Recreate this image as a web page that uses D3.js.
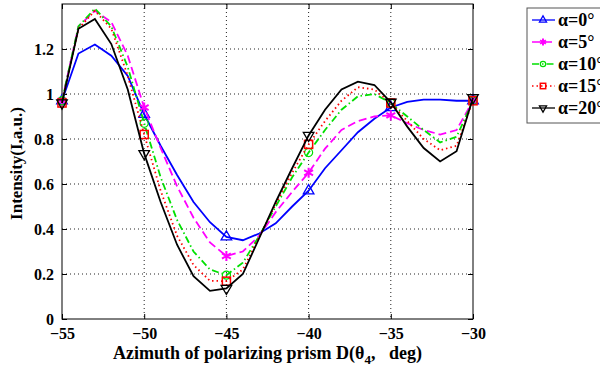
<!DOCTYPE html>
<html>
<head>
<meta charset="utf-8">
<script src="https://cdn.jsdelivr.net/npm/d3@7"></script>
<style>
  body { margin: 0; background: #fff; }
  text { font-family: "Liberation Serif", "Times New Roman", serif; font-weight: bold; fill: #000; }
</style>
</head>
<body>
<svg id="chart" width="600" height="370"></svg>
<script>
// azimuth, every degree from -55 to -30
var angles = [-55, -54, -53, -52, -51, -50, -49, -48, -47, -46, -45, -44, -43,
              -42, -41, -40, -39, -38, -37, -36, -35, -34, -33, -32, -31, -30];
var markerAngles = [-55, -50, -45, -40, -35, -30];

var a0  = [0.97, 1.18, 1.22, 1.17, 1.08, 0.91, 0.77, 0.64, 0.52, 0.43, 0.365, 0.35, 0.38,
           0.425, 0.50, 0.57, 0.67, 0.75, 0.83, 0.89, 0.94, 0.965, 0.975, 0.975, 0.97, 0.97];
var a5  = [0.97, 1.30, 1.37, 1.32, 1.17, 0.94, 0.76, 0.59, 0.45, 0.34, 0.28, 0.30, 0.37,
           0.475, 0.565, 0.65, 0.757, 0.84, 0.88, 0.90, 0.905, 0.87, 0.84, 0.82, 0.84, 0.97];
var a10 = [0.97, 1.30, 1.38, 1.30, 1.12, 0.87, 0.63, 0.44, 0.30, 0.22, 0.195, 0.25, 0.37,
           0.50, 0.63, 0.74, 0.84, 0.93, 0.99, 1.00, 0.96, 0.90, 0.84, 0.785, 0.81, 0.97];
var a15 = [0.96, 1.29, 1.37, 1.29, 1.08, 0.82, 0.57, 0.37, 0.24, 0.17, 0.168, 0.22, 0.365,
           0.51, 0.65, 0.776, 0.88, 0.97, 1.03, 1.02, 0.96, 0.88, 0.80, 0.75, 0.77, 0.97];
var a20 = [0.96, 1.29, 1.333, 1.222, 1.02, 0.735, 0.52, 0.33, 0.19, 0.125, 0.136, 0.20, 0.36,
           0.52, 0.67, 0.816, 0.93, 1.02, 1.055, 1.04, 0.963, 0.855, 0.76, 0.70, 0.746, 0.983];

var labels = ["\u03b1=0\u00b0", "\u03b1=5\u00b0", "\u03b1=10\u00b0", "\u03b1=15\u00b0", "\u03b1=20\u00b0"];
var xTicks = [-55, -50, -45, -40, -35, -30];
var yTicks = [0, 0.2, 0.4, 0.6, 0.8, 1, 1.2];

var series = [
    { name: labels[0], values: a0,  color: "#0000ff", dash: null,      marker: "up" },
    { name: labels[1], values: a5,  color: "#ff00ff", dash: "8,4",     marker: "star" },
    { name: labels[2], values: a10, color: "#00e000", dash: "7,3,1.5,3", marker: "circle" },
    { name: labels[3], values: a15, color: "#ff0000", dash: "1.5,3",   marker: "square" },
    { name: labels[4], values: a20, color: "#000000", dash: null,      marker: "down" }
];

var svg = d3.select("#chart"),
    margin = { top: 4, right: 127, bottom: 51, left: 62 },
    width = +svg.attr("width") - margin.left - margin.right,
    height = +svg.attr("height") - margin.top - margin.bottom;

var x = d3.scaleLinear().domain([-55, -30]).range([0, width]),
    y = d3.scaleLinear().domain([0, 1.4]).range([height, 0]);

var g = svg.append("g")
    .attr("transform", "translate(" + margin.left + "," + margin.top + ")");

// dotted grid
g.append("g")
    .selectAll("line")
    .data(xTicks.slice(1, -1))
    .enter().append("line")
    .attr("x1", function (d) { return x(d); })
    .attr("x2", function (d) { return x(d); })
    .attr("y1", 0).attr("y2", height)
    .attr("stroke", "#222").attr("stroke-width", 1).attr("stroke-dasharray", "1,3");

g.append("g")
    .selectAll("line")
    .data(yTicks.slice(1))
    .enter().append("line")
    .attr("y1", function (d) { return y(d); })
    .attr("y2", function (d) { return y(d); })
    .attr("x1", 0).attr("x2", width)
    .attr("stroke", "#222").attr("stroke-width", 1).attr("stroke-dasharray", "1,3");

// axes, ticks pointing in like matlab
var xAxis = d3.axisBottom(x).tickValues(xTicks).tickSizeInner(-5).tickSizeOuter(0).tickPadding(9)
        .tickFormat(d3.format("d")),
    xAxisTop = d3.axisTop(x).tickValues(xTicks).tickSizeInner(-5).tickSizeOuter(0).tickFormat(""),
    yAxis = d3.axisLeft(y).tickValues(yTicks).tickSizeInner(-5).tickSizeOuter(0).tickPadding(8)
        .tickFormat(function (d) { return d === 0 || d === 1 ? d : d3.format(".1f")(d); }),
    yAxisRight = d3.axisRight(y).tickValues(yTicks).tickSizeInner(-5).tickSizeOuter(0).tickFormat("");

g.append("g").attr("transform", "translate(0," + height + ")").call(xAxis);
g.append("g").call(xAxisTop);
g.append("g").call(yAxis);
g.append("g").attr("transform", "translate(" + width + ",0)").call(yAxisRight);

g.selectAll(".domain").remove();
g.selectAll(".tick line").attr("stroke", "#000");
g.selectAll(".tick text").attr("font-size", 16).style("font-family", "Liberation Serif").style("font-weight", "bold");

g.append("rect")
    .attr("width", width).attr("height", height)
    .attr("fill", "none").attr("stroke", "#000").attr("stroke-width", 1);

// curves
var line = d3.line()
    .x(function (d, i) { return x(angles[i]); })
    .y(function (d) { return y(d); });

function drawMarker(sel, type, color, size) {
    if (type === "circle") {
        sel.append("circle").attr("r", size * 0.45)
            .attr("fill", "none").attr("stroke", color).attr("stroke-width", 1.2);
    } else if (type === "square") {
        sel.append("rect").attr("x", -size * 0.45).attr("y", -size * 0.45)
            .attr("width", size * 0.9).attr("height", size * 0.9)
            .attr("fill", "none").attr("stroke", color).attr("stroke-width", 1.5);
    } else if (type === "star") {
        sel.append("path").attr("d", d3.symbol().type(d3.symbolAsterisk).size(size * size * 0.9))
            .attr("fill", "none").attr("stroke", color).attr("stroke-width", 2);
    } else {
        sel.append("path").attr("d", d3.symbol().type(d3.symbolTriangle).size(size * size * 0.6))
            .attr("transform", type === "down" ? "rotate(180)" : null)
            .attr("fill", "none").attr("stroke", color).attr("stroke-width", 1.3);
    }
}

series.forEach(function (s) {
    g.append("path")
        .datum(s.values)
        .attr("fill", "none")
        .attr("stroke", s.color)
        .attr("stroke-width", 1.8)
        .attr("stroke-dasharray", s.dash)
        .attr("d", line);

    markerAngles.forEach(function (a) {
        var i = angles.indexOf(a);
        var m = g.append("g")
            .attr("transform", "translate(" + x(a) + "," + y(s.values[i]) + ")");
        drawMarker(m, s.marker, s.color, 9);
    });
});

// axis titles
var xt = svg.append("text")
    .attr("x", margin.left + width / 2)
    .attr("y", 359)
    .attr("text-anchor", "middle")
    .attr("font-size", 18);
xt.append("tspan").text("Azimuth of polarizing prism D(\u03b8");
xt.append("tspan").attr("dy", 5).attr("font-size", 13).text("4");
xt.append("tspan").attr("dy", -5).text(",\u00a0\u00a0\u00a0deg)");

svg.append("text")
    .attr("transform", "translate(22," + (margin.top + height / 2 + 2) + ") rotate(-90)")
    .attr("text-anchor", "middle")
    .attr("font-size", 17)
    .text("Intensity(I,a.u.)");

// legend
var legend = svg.append("g").attr("transform", "translate(527,8)");
legend.append("rect")
    .attr("width", 90).attr("height", 115)
    .attr("fill", "#fff").attr("stroke", "#555").attr("stroke-width", 1);

var item = legend.selectAll(".item")
    .data(series)
    .enter().append("g")
    .attr("class", "item")
    .attr("transform", function (d, i) { return "translate(0," + (12 + i * 22) + ")"; });

item.append("line")
    .attr("x1", 5).attr("x2", 28)
    .attr("stroke", function (d) { return d.color; })
    .attr("stroke-width", 1.3)
    .attr("stroke-dasharray", function (d) { return d.dash; });

item.each(function (d) {
    var m = d3.select(this).append("g").attr("transform", "translate(16,0)");
    drawMarker(m, d.marker, d.color, 6);
});

item.append("text")
    .attr("x", 31).attr("y", 6)
    .attr("font-size", 18)
    .text(function (d) { return d.name; });
</script>
</body>
</html>
